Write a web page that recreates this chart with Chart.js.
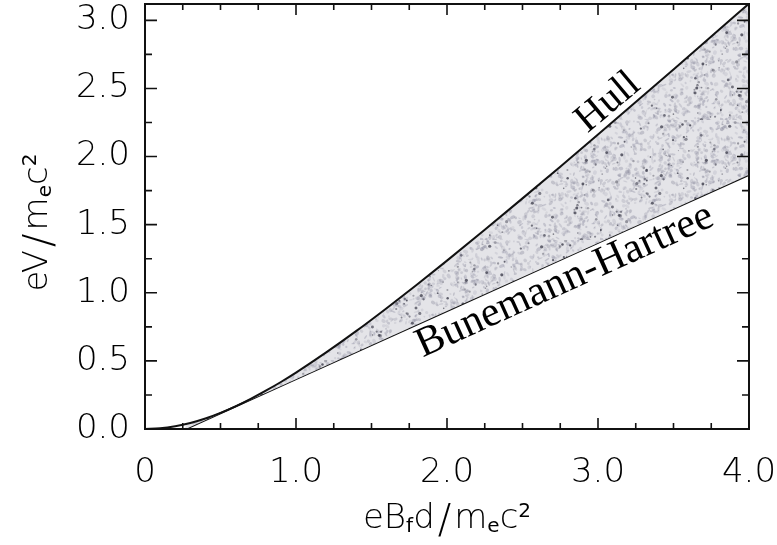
<!DOCTYPE html>
<html>
<head>
<meta charset="utf-8">
<script src="https://cdn.jsdelivr.net/npm/chart.js@4.4.1/dist/chart.umd.min.js"></script>
<style>
  html, body { margin: 0; padding: 0; background: #fff; }
  #wrap { width: 777px; height: 545px; }
</style>
</head>
<body>
<div id="wrap"><canvas id="chart" width="777" height="545"></canvas></div>
<script>
// Hull cutoff
const hullB = [0, 0.1, 0.2, 0.3, 0.4, 0.5, 0.6, 0.7, 0.8, 0.9, 1.0, 1.2, 1.4, 1.6, 1.8, 2.0, 2.25, 2.5, 2.75, 3.0, 3.25, 3.5, 3.75, 4.0];
const hullV = [0, 0.005, 0.020, 0.044, 0.077, 0.118, 0.166, 0.221, 0.281, 0.345, 0.414, 0.562, 0.720, 0.887, 1.059, 1.236, 1.462, 1.693, 1.926, 2.162, 2.400, 2.640, 2.881, 3.123];

// Bunemann-Hartree line
const bhB = [0.27, 1.0, 2.0, 3.0, 4.0];
const bhV = [0, 0.366, 0.866, 1.366, 1.866];

const xTickValues = [0, 1, 2, 3, 4];
const xTickLabels = ['0', '1.0', '2.0', '3.0', '4.0'];
const yTickValues = [0, 0.5, 1, 1.5, 2, 2.5, 3];
const yTickLabels = ['0.0', '0.5', '1.0', '1.5', '2.0', '2.5', '3.0'];
const minorStep = 0.25;

const sansFont = "'DejaVu Sans', sans-serif";
const serifFont = "'Liberation Serif', 'Times New Roman', serif";

// grey speckled fill for the region between the curves
function speckle(ctx) {
    const c = document.createElement('canvas');
    c.width = c.height = 120;
    const g = c.getContext('2d');
    g.fillStyle = '#e4e4e8';
    g.fillRect(0, 0, 120, 120);
    let s = 12345;
    const rnd = () => (s = (s * 16807) % 2147483647) / 2147483647;
    for (let i = 0; i < 800; i++) {
        g.fillStyle = `rgba(135,135,155,${0.14 + 0.24 * rnd()})`;
        g.beginPath();
        g.ellipse(rnd() * 120, rnd() * 120, 0.8 + rnd() * 2, 0.6 + rnd() * 1.4, rnd() * 3, 0, 7);
        g.fill();
    }
    for (let i = 0; i < 110; i++) {
        g.fillStyle = `rgba(55,55,70,${0.3 + 0.5 * rnd()})`;
        g.beginPath();
        g.arc(rnd() * 120, rnd() * 120, 0.6 + rnd() * 1.1, 0, 7);
        g.fill();
    }
    return ctx.createPattern(c, 'repeat');
}

// box with inward ticks on all four sides
const frameTicks = {
    id: 'frameTicks',
    afterDatasetsDraw(chart) {
        const { ctx, chartArea: a, scales: { x, y } } = chart;
        ctx.save();
        ctx.strokeStyle = '#111';
        ctx.lineWidth = 2;
        ctx.strokeRect(a.left, a.top, a.right - a.left, a.bottom - a.top);
        ctx.lineWidth = 1.6;
        ctx.beginPath();
        for (let v = x.min; v <= x.max + 1e-9; v += minorStep) {
            const px = x.getPixelForValue(v);
            const len = xTickValues.some(t => Math.abs(t - v) < 1e-6) ? 11 : 6;
            ctx.moveTo(px, a.bottom); ctx.lineTo(px, a.bottom - len);
            ctx.moveTo(px, a.top); ctx.lineTo(px, a.top + len);
        }
        for (let v = y.min; v <= y.max + 1e-9; v += minorStep) {
            const py = y.getPixelForValue(v);
            const len = yTickValues.some(t => Math.abs(t - v) < 1e-6) ? 12 : 7;
            ctx.moveTo(a.left, py); ctx.lineTo(a.left + len, py);
            ctx.moveTo(a.right, py); ctx.lineTo(a.right - len, py);
        }
        ctx.stroke();
        ctx.restore();
    }
};

// text with sub/superscripts
function drawRich(ctx, parts, cx, cy) {
    const fontOf = p => `${p.weight || 200} ${p.size}px ${sansFont}`;
    const widths = parts.map(p => {
        ctx.font = fontOf(p);
        return ctx.measureText(p.t).width + (p.gap || 0) * 2;
    });
    let x = cx - widths.reduce((s, w) => s + w, 0) / 2;
    parts.forEach((p, i) => {
        ctx.font = fontOf(p);
        ctx.fillText(p.t, x + (p.gap || 0), cy + p.dy);
        x += widths[i];
    });
}

const axisTitles = {
    id: 'axisTitles',
    afterDraw(chart) {
        const { ctx, chartArea: a } = chart;
        ctx.save();
        ctx.fillStyle = '#000';
        ctx.textBaseline = 'alphabetic';
        ctx.textAlign = 'left';
        drawRich(ctx, [
            { t: 'eB', size: 34, dy: 0 },
            { t: 'f', size: 20, dy: 4, weight: 400 },
            { t: 'd', size: 34, dy: 0 },
            { t: '/', size: 40, dy: 5, gap: 3 },
            { t: 'm', size: 34, dy: 0 },
            { t: 'e', size: 20, dy: 4, weight: 400 },
            { t: 'c', size: 34, dy: 0 },
            { t: '2', size: 20, dy: -11, weight: 400 }
        ], (a.left + a.right) / 2, a.bottom + 99);
        ctx.translate(a.left - 98, (a.top + a.bottom) / 2 + 6);
        ctx.rotate(-Math.PI / 2);
        drawRich(ctx, [
            { t: 'eV', size: 34, dy: 0 },
            { t: '/', size: 40, dy: 5, gap: 3 },
            { t: 'm', size: 34, dy: 0 },
            { t: 'e', size: 20, dy: 4, weight: 400 },
            { t: 'c', size: 34, dy: 0 },
            { t: '2', size: 20, dy: -11, weight: 400 }
        ], 0, 0);
        ctx.restore();
    }
};

// labels written along the curves
const curveLabels = {
    id: 'curveLabels',
    afterDraw(chart, args, opts) {
        const { ctx, scales: { x, y } } = chart;
        ctx.save();
        ctx.fillStyle = '#000';
        ctx.textAlign = 'left';
        ctx.textBaseline = 'alphabetic';
        opts.items.forEach(it => {
            ctx.save();
            ctx.translate(x.getPixelForValue(it.x), y.getPixelForValue(it.y));
            ctx.rotate(it.angle * Math.PI / 180);
            ctx.font = `${it.size}px ${serifFont}`;
            ctx.fillText(it.text, 0, 0);
            ctx.restore();
        });
        ctx.restore();
    }
};

const canvas = document.getElementById('chart');
const pattern = speckle(canvas.getContext('2d'));

new Chart(canvas, {
    type: 'line',
    data: {
        datasets: [{
            label: 'Hull',
            data: hullB.map((b, i) => ({ x: b, y: hullV[i] })),
            borderColor: '#111',
            borderWidth: 2,
            pointRadius: 0,
            cubicInterpolationMode: 'monotone',
            fill: { target: 1 },
            backgroundColor: pattern
        }, {
            label: 'Bunemann-Hartree',
            data: bhB.map((b, i) => ({ x: b, y: bhV[i] })),
            borderColor: '#111',
            borderWidth: 2,
            pointRadius: 0,
            fill: false
        }]
    },
    options: {
        responsive: false,
        animation: false,
        layout: { padding: { left: 0, right: 28, top: 4, bottom: 0 } },
        plugins: {
            legend: { display: false },
            tooltip: { enabled: false },
            curveLabels: {
                items: [
                    { text: 'Hull', x: 2.93, y: 2.17, angle: -40, size: 40 },
                    { text: 'Bunemann-Hartree', x: 1.84, y: 0.525, angle: -24.4, size: 42 }
                ]
            }
        },
        scales: {
            x: {
                type: 'linear',
                min: 0,
                max: 4,
                grid: { display: false, drawTicks: false },
                border: { display: false },
                afterBuildTicks: s => { s.ticks = xTickValues.map(v => ({ value: v })); },
                afterFit: s => { s.height = 116; s.paddingLeft = 0; s.paddingRight = 0; },
                ticks: {
                    autoSkip: false,
                    maxRotation: 0,
                    padding: 24,
                    color: '#000',
                    font: { family: sansFont, size: 34, weight: '200' },
                    callback: v => xTickLabels[xTickValues.indexOf(v)]
                }
            },
            y: {
                type: 'linear',
                min: 0,
                max: 3.12,
                grid: { display: false, drawTicks: false },
                border: { display: false },
                afterBuildTicks: s => { s.ticks = yTickValues.map(v => ({ value: v })); },
                afterFit: s => { s.width = 145; s.paddingTop = 0; s.paddingBottom = 0; },
                ticks: {
                    autoSkip: false,
                    padding: 15,
                    color: '#000',
                    font: { family: sansFont, size: 34, weight: '200' },
                    callback: v => yTickLabels[yTickValues.indexOf(v)]
                }
            }
        }
    },
    plugins: [frameTicks, axisTitles, curveLabels]
});
</script>
</body>
</html>
